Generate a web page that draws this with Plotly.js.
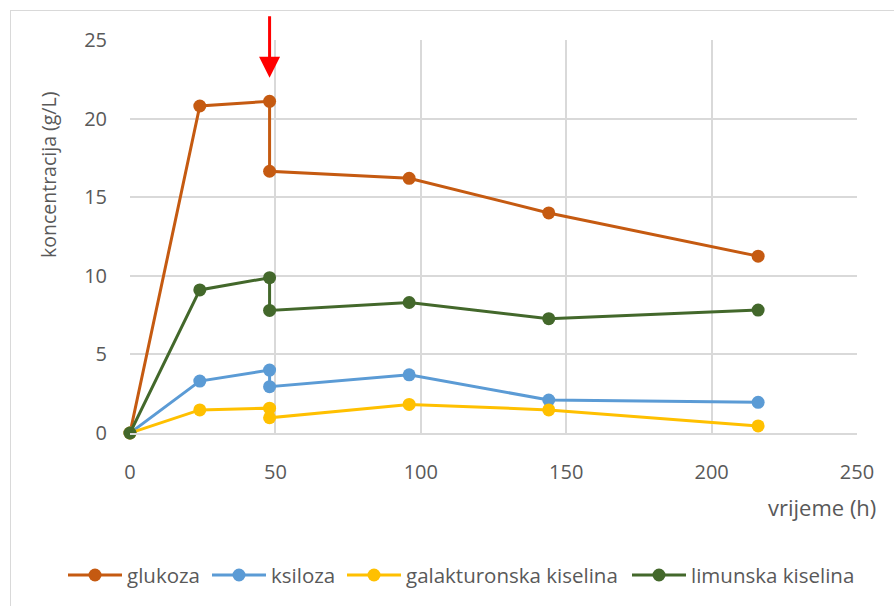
<!DOCTYPE html>
<html><head><meta charset="utf-8">
<script src="https://cdn.plot.ly/plotly-3.0.1.min.js"></script>
<style>
body{margin:0;padding:0;background:#fff;}
#frame{position:absolute;left:10px;top:10px;width:900px;height:600px;border:1.5px solid #d9d9d9;box-sizing:border-box;}
#chart{position:absolute;left:0;top:0;width:894px;height:606px;}
</style></head>
<body>
<div id="frame"></div>
<div id="chart"></div>
<script>
const time = [0, 24, 48, 48, 96, 144, 216];
const glukoza = [0, 20.8, 21.1, 16.65, 16.2, 14.0, 11.25];
const ksiloza = [0, 3.3, 4.0, 2.95, 3.7, 2.1, 1.95];
const galakturonska = [0, 1.47, 1.58, 0.97, 1.82, 1.47, 0.45];
const limunska = [0, 9.1, 9.88, 7.8, 8.3, 7.27, 7.82];
const names = ['glukoza', 'ksiloza', 'galakturonska kiselina', 'limunska kiselina'];
const colors = ['#C55A11', '#5B9BD5', '#FFC000', '#43682B'];
const series = [glukoza, ksiloza, galakturonska, limunska];
const xTicks = [0, 50, 100, 150, 200, 250];
const yTicks = [0, 5, 10, 15, 20, 25];
const arrowX = 48, arrowTip = 22.6, arrowTail = 26.6;

const font = '"Open Sans", sans-serif';
const txt = '#595959';
const traces = series.map((s, i) => ({
  x: time, y: s, name: names[i], type: 'scatter', mode: 'lines+markers',
  line: {color: colors[i], width: 3},
  marker: {color: colors[i], size: 13},
  cliponaxis: false, showlegend: false
}));

// plot area in pixels: left 130, right 857, top 40, bottom 433
const L = 130, R = 857, T = 40, B = 433;
const px = v => (v - L) / (R - L);
const py = v => (B - v) / (B - T);

// custom legend (line starts in px, legend row y)
const legStarts = [68, 212, 347, 632];
const legY = 575;
const shapes = [];
const annotations = [
  {x: arrowX, y: arrowTip, ax: arrowX, ay: arrowTail, axref: 'x', ayref: 'y', xref: 'x', yref: 'y',
   showarrow: true, arrowhead: 2, arrowsize: 1.4, arrowwidth: 3, arrowcolor: '#FF0000', text: ''},
  {xref: 'paper', yref: 'paper', x: px(878), y: py(507), xanchor: 'right', yanchor: 'middle',
   text: 'vrijeme (h)', showarrow: false, font: {size: 22, color: txt}},
  {xref: 'paper', yref: 'paper', x: px(48), y: py(175), xanchor: 'center', yanchor: 'middle',
   text: 'koncentracija (g/L)', textangle: -90, showarrow: false, font: {size: 19.5, color: txt}}
];
names.forEach((n, i) => {
  const x0 = legStarts[i];
  shapes.push({type: 'line', xref: 'paper', yref: 'paper', x0: px(x0), x1: px(x0 + 54),
    y0: py(legY), y1: py(legY), line: {color: colors[i], width: 3}});
  shapes.push({type: 'circle', xref: 'paper', yref: 'paper', xsizemode: 'pixel', ysizemode: 'pixel',
    xanchor: px(x0 + 27), yanchor: py(legY), x0: -6.5, x1: 6.5, y0: -6.5, y1: 6.5,
    fillcolor: colors[i], line: {width: 0}});
  annotations.push({xref: 'paper', yref: 'paper', x: px(x0 + 57), y: py(legY), xanchor: 'left',
    yanchor: 'middle', text: n, showarrow: false, font: {size: 20.5, color: txt}});
});

const layout = {
  width: 894, height: 606,
  margin: {l: L, r: 894 - R, t: T, b: 606 - B},
  paper_bgcolor: 'rgba(0,0,0,0)', plot_bgcolor: 'rgba(0,0,0,0)',
  font: {family: font, color: txt, size: 20},
  showlegend: false,
  xaxis: {range: [0, 250], tickvals: xTicks, showgrid: true, gridcolor: '#d9d9d9', gridwidth: 1.5,
    zeroline: false, showline: true, linecolor: '#d9d9d9', linewidth: 1.5, mirror: false,
    ticks: '', ticklabelstandoff: 20, tickfont: {size: 20, color: txt}},
  yaxis: {range: [0, 25], tickvals: yTicks, showgrid: true, gridcolor: '#d9d9d9', gridwidth: 1.5,
    zeroline: false, showline: false, ticks: '', ticklabelstandoff: 22,
    tickfont: {size: 20, color: txt}},
  shapes: shapes,
  annotations: annotations
};
Plotly.newPlot('chart', traces, layout, {displayModeBar: false});
</script>
</body></html>
